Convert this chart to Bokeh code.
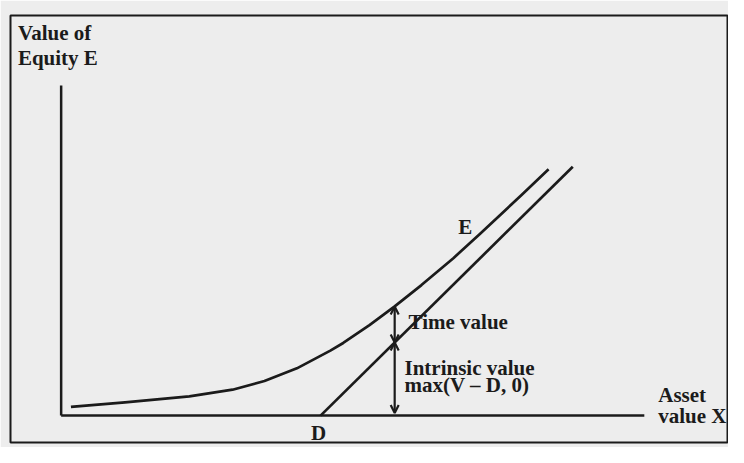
from bokeh.plotting import figure
from bokeh.models import Range1d, Arrow, OpenHead, ColumnDataSource
from bokeh.core.properties import value
from bokeh.embed import file_html
from bokeh.resources import INLINE

# ---- data (asset value on x, equity value on y) ----
asset_curve = [0.19, 1.24, 2.49, 3.33, 3.95, 4.58, 5.23, 5.48, 5.99, 6.48, 7.00, 7.62, 8.14, 8.95, 9.47]
equity_curve = [0.17, 0.26, 0.38, 0.51, 0.68, 0.93, 1.28, 1.43, 1.78, 2.15, 2.57, 3.10, 3.58, 4.35, 4.85]
strike_D = 5.04
intrinsic_end = 9.94
axis_x_max = 11.33
axis_y_max = 6.50
arrow_at = 6.48

intrinsic_x = [strike_D, intrinsic_end]
intrinsic_y = [0.0, intrinsic_end - strike_D]
e_at_arrow = equity_curve[asset_curve.index(arrow_at)]
iv_at_arrow = arrow_at - strike_D

label_text = ["Value of", "Equity E", "Time value", "Intrinsic value",
              "max(V \u2013 D, 0)", "Asset", "value X"]
label_x = [-0.84, -0.84, 6.75, 6.67, 6.67, 11.6, 11.6]
label_y = [7.53, 7.05, 1.84, 0.945, 0.60, 0.40, -0.01]

center_text = ["E", "D"]
center_x = [7.85, 5.0]
center_y = [3.71, -0.35]

INK = "#1b1b1b"
PAPER = "#ededed"
FONT = value("Liberation Serif")

p = figure(width=728, height=447, output_backend="svg", toolbar_location=None,
           x_range=Range1d(-0.984, 12.946), y_range=Range1d(-0.530, 7.879),
           min_border_left=10, min_border_top=15, min_border_right=1, min_border_bottom=5)
p.axis.visible = False
p.grid.visible = False
p.background_fill_color = PAPER
p.border_fill_color = PAPER
p.outline_line_color = INK
p.outline_line_width = 2

# axes
p.line([0, 0], [0, axis_y_max], line_color=INK, line_width=2.5)
p.line([0, axis_x_max], [0, 0], line_color=INK, line_width=2.5)

# equity value curve and intrinsic value
p.line(asset_curve, equity_curve, line_color=INK, line_width=2.7, line_join="round")
p.line(intrinsic_x, intrinsic_y, line_color=INK, line_width=2.7)

# double-headed arrows: time value and intrinsic value
for y0, y1 in [(iv_at_arrow, e_at_arrow), (0.05, iv_at_arrow)]:
    p.add_layout(Arrow(x_start=arrow_at, y_start=y0, x_end=arrow_at, y_end=y1,
                       line_color=INK, line_width=2.2,
                       start=OpenHead(size=8, line_color=INK, line_width=2.2),
                       end=OpenHead(size=8, line_color=INK, line_width=2.2)))

src = ColumnDataSource(dict(x=label_x, y=label_y, t=label_text))
p.text(x="x", y="y", text="t", source=src, text_font=FONT, text_font_style="bold",
       text_font_size="21px", text_color=INK, text_baseline="middle", text_align="left")
src2 = ColumnDataSource(dict(x=center_x, y=center_y, t=center_text))
p.text(x="x", y="y", text="t", source=src2, text_font=FONT, text_font_style="bold",
       text_font_size="21px", text_color=INK, text_baseline="middle", text_align="center")

open("out.html", "w").write(file_html(p, INLINE))
